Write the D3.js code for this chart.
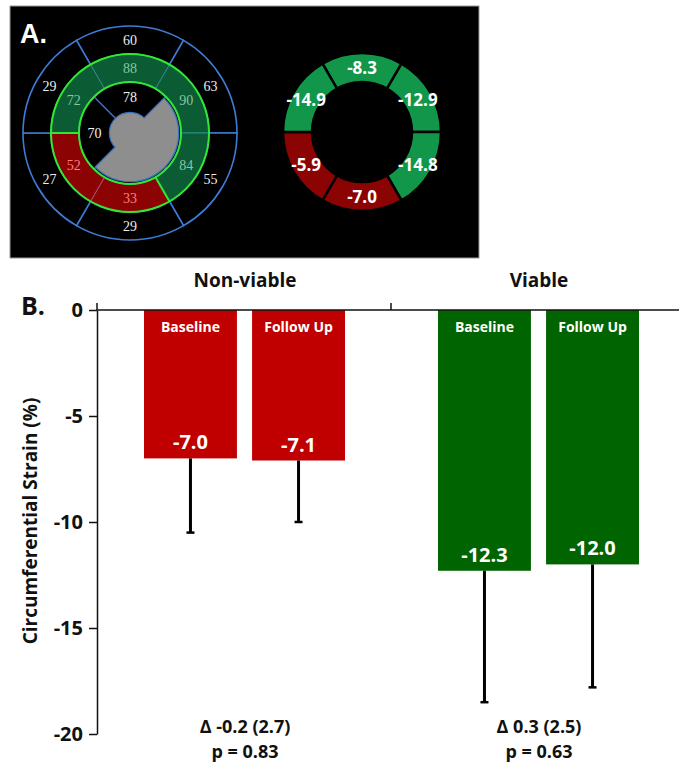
<!DOCTYPE html>
<html>
<head>
<meta charset="utf-8">
<script src="https://cdn.jsdelivr.net/npm/d3@7"></script>
<style>
body { margin: 0; background: #fff; }
svg { display: block; }
</style>
</head>
<body>
<div id="chart"></div>
<script>
// panel A: bullseye segments, clockwise from the top one
const basalPercent = [60, 63, 55, 29, 27, 29]
const midPercent = [88, 90, 84, 33, 52, 72]
const midViable = [true, true, true, false, false, true]
const apicalPercent = [78, null, null, 70]
const midStrain = ["-8.3", "-12.9", "-14.8", "-7.0", "-5.9", "-14.9"]

// panel B
const groups = ["Non-viable", "Viable"]
const timepoints = ["Baseline", "Follow Up"]
const strainMean = [[-7.0, -7.1], [-12.3, -12.0]]
const strainSD = [[3.5, 2.9], [6.2, 5.8]]
const deltaLabels = ["Δ -0.2 (2.7)", "Δ 0.3 (2.5)"]
const pLabels = ["p = 0.83", "p = 0.63"]
const yTicks = [0, -5, -10, -15, -20]

const deg = Math.PI / 180
const sans = "'Open Sans', 'Liberation Sans', sans-serif"
const serif = "'Liberation Serif', 'DejaVu Serif', serif"

const svg = d3
  .select("#chart")
  .append("svg")
  .attr("width", 679)
  .attr("height", 767)

// ---------- panel A ----------
svg
  .append("rect")
  .attr("x", 10)
  .attr("y", 6)
  .attr("width", 469)
  .attr("height", 252)
  .attr("fill", "#000")
  .attr("stroke", "#9a9a9a")
  .attr("stroke-width", 1)

const sixth = i => ({ startAngle: (i * 60 - 30) * deg, endAngle: (i * 60 + 30) * deg })
const quarter = i => ({ startAngle: (i * 90 - 45) * deg, endAngle: (i * 90 + 45) * deg })

const basalArc = d3.arc().innerRadius(79).outerRadius(107)
const midArc = d3.arc().innerRadius(51).outerRadius(79)
const apexArc = d3.arc().innerRadius(0).outerRadius(51)
const apexLabelArc = d3.arc().innerRadius(20).outerRadius(51)

const bull = svg.append("g").attr("transform", "translate(130,133)")

bull
  .selectAll(".basal")
  .data(basalPercent)
  .enter()
  .append("path")
  .attr("class", "basal")
  .attr("d", (d, i) => basalArc(sixth(i)))
  .attr("fill", "#000")
  .attr("stroke", "#3f7bd4")
  .attr("stroke-width", 1.6)

bull
  .selectAll(".mid")
  .data(midPercent)
  .enter()
  .append("path")
  .attr("class", "mid")
  .attr("d", (d, i) => midArc(sixth(i)))
  .attr("fill", (d, i) => (midViable[i] ? "#0b5c34" : "#8b0303"))
  .attr("stroke", (d, i) => (midViable[i] ? "#2d8c8c" : "#b0507a"))
  .attr("stroke-width", 1)

bull
  .selectAll(".apex")
  .data(apicalPercent)
  .enter()
  .append("path")
  .attr("class", "apex")
  .attr("d", (d, i) => apexArc(quarter(i)))
  .attr("fill", "#000")
  .attr("stroke", "#3f7bd4")
  .attr("stroke-width", 1.2)

// infarct (no value) region of the apex in grey
const noValue = apicalPercent.map((d, i) => i).filter(i => apicalPercent[i] === null)
const greyArc = {
  startAngle: (noValue[0] * 90 - 45) * deg,
  endAngle: (noValue[noValue.length - 1] * 90 + 45) * deg,
}
const greyShape = d3.arc().innerRadius(0).outerRadius(48)
bull
  .append("path")
  .attr("d", greyShape(greyArc))
  .attr("fill", "none")
  .attr("stroke", "#3a6fc0")
  .attr("stroke-width", 2.5)
bull
  .append("circle")
  .attr("r", 20)
  .attr("fill", "none")
  .attr("stroke", "#3a6fc0")
  .attr("stroke-width", 2.5)
bull.append("path").attr("d", greyShape(greyArc)).attr("fill", "#8e8e8e")
bull.append("circle").attr("r", 20).attr("fill", "#8e8e8e")

// bright green outline of the mid ring
bull
  .selectAll(".ring")
  .data([51, 79])
  .enter()
  .append("circle")
  .attr("r", d => d)
  .attr("fill", "none")
  .attr("stroke", "#33e633")
  .attr("stroke-width", 2)
bull
  .selectAll(".edge")
  .data(midViable.map((v, i) => i).filter(i => midViable[i] !== midViable[(i + 1) % 6]))
  .enter()
  .append("line")
  .attr("x1", i => 51 * Math.sin((i * 60 + 30) * deg))
  .attr("y1", i => -51 * Math.cos((i * 60 + 30) * deg))
  .attr("x2", i => 79 * Math.sin((i * 60 + 30) * deg))
  .attr("y2", i => -79 * Math.cos((i * 60 + 30) * deg))
  .attr("stroke", "#33e633")
  .attr("stroke-width", 2)

const ringText = (sel, fill) =>
  sel
    .attr("text-anchor", "middle")
    .attr("dominant-baseline", "central")
    .attr("font-family", serif)
    .attr("font-size", 14)
    .attr("fill", fill)

bull
  .selectAll(".basalLabel")
  .data(basalPercent)
  .enter()
  .append("text")
  .attr("transform", (d, i) => `translate(${basalArc.centroid(sixth(i))})`)
  .text(d => d)
  .call(ringText, "#ececec")

bull
  .selectAll(".midLabel")
  .data(midPercent)
  .enter()
  .append("text")
  .attr("transform", (d, i) => `translate(${midArc.centroid(sixth(i))})`)
  .text(d => d)
  .call(ringText, (d, i) => (midViable[i] ? "#86c6a0" : "#ff8080"))

bull
  .selectAll(".apexLabel")
  .data(apicalPercent)
  .enter()
  .filter(d => d !== null)
  .append("text")
  .attr("transform", (d, i) => `translate(${apexLabelArc.centroid(quarter(apicalPercent.indexOf(d)))})`)
  .text(d => d)
  .call(ringText, "#f2f2f2")

// strain donut
const donutArc = d3.arc().innerRadius(50).outerRadius(79)
const donut = svg.append("g").attr("transform", "translate(362,132)")
donut
  .selectAll("path")
  .data(midStrain)
  .enter()
  .append("path")
  .attr("d", (d, i) => donutArc(sixth(i)))
  .attr("fill", (d, i) => (midViable[i] ? "#12964a" : "#8b0303"))
  .attr("stroke", "#000")
  .attr("stroke-width", 2.5)
donut
  .selectAll("text")
  .data(midStrain)
  .enter()
  .append("text")
  .attr("transform", (d, i) => `translate(${donutArc.centroid(sixth(i))})`)
  .attr("text-anchor", "middle")
  .attr("dominant-baseline", "central")
  .attr("font-family", sans)
  .attr("font-weight", "bold")
  .attr("font-size", 17)
  .attr("fill", "#fff")
  .text(d => d)

svg
  .append("text")
  .attr("x", 20)
  .attr("y", 43)
  .attr("font-family", "'Liberation Sans', Arial, sans-serif")
  .attr("font-weight", "bold")
  .attr("font-size", 27)
  .attr("fill", "#fff")
  .text("A.")

// ---------- panel B ----------
const y = d3.scaleLinear().domain([-20, 0]).range([734, 310])
const xGroup = d3.scaleBand().domain(groups).range([97, 685])
const xTime = d3.scaleBand().domain(timepoints).range([47, 248]).paddingInner(0.14)

const bars = svg.append("g")
groups.forEach((g, gi) => {
  const grp = bars.append("g").attr("transform", `translate(${xGroup(g)},0)`)
  const color = gi === 0 ? "#c00000" : "#006400"
  const rows = timepoints.map((t, ti) => ({ t, mean: strainMean[gi][ti], sd: strainSD[gi][ti] }))

  grp
    .selectAll("rect")
    .data(rows)
    .enter()
    .append("rect")
    .attr("x", d => xTime(d.t))
    .attr("y", y(0))
    .attr("width", xTime.bandwidth())
    .attr("height", d => y(d.mean) - y(0))
    .attr("fill", color)

  grp
    .selectAll(".err")
    .data(rows)
    .enter()
    .append("line")
    .attr("x1", d => xTime(d.t) + xTime.bandwidth() / 2)
    .attr("x2", d => xTime(d.t) + xTime.bandwidth() / 2)
    .attr("y1", d => y(d.mean))
    .attr("y2", d => y(d.mean - d.sd))
    .attr("stroke", "#000")
    .attr("stroke-width", 3)
  grp
    .selectAll(".cap")
    .data(rows)
    .enter()
    .append("line")
    .attr("x1", d => xTime(d.t) + xTime.bandwidth() / 2 - 4)
    .attr("x2", d => xTime(d.t) + xTime.bandwidth() / 2 + 4)
    .attr("y1", d => y(d.mean - d.sd))
    .attr("y2", d => y(d.mean - d.sd))
    .attr("stroke", "#000")
    .attr("stroke-width", 2.5)

  grp
    .selectAll(".name")
    .data(rows)
    .enter()
    .append("text")
    .attr("x", d => xTime(d.t) + xTime.bandwidth() / 2)
    .attr("y", 332)
    .attr("text-anchor", "middle")
    .attr("font-family", sans)
    .attr("font-weight", "bold")
    .attr("font-size", 14)
    .attr("fill", "#fff")
    .text(d => d.t)

  grp
    .selectAll(".value")
    .data(rows)
    .enter()
    .append("text")
    .attr("x", d => xTime(d.t) + xTime.bandwidth() / 2)
    .attr("y", d => y(d.mean) - 9)
    .attr("text-anchor", "middle")
    .attr("font-family", sans)
    .attr("font-weight", "bold")
    .attr("font-size", 20)
    .attr("fill", "#fff")
    .text(d => d.mean.toFixed(1))

  const cx = xGroup(g) + xGroup.bandwidth() / 2
  const label = (yy, txt, size) =>
    svg
      .append("text")
      .attr("x", cx + 1)
      .attr("y", yy)
      .attr("text-anchor", "middle")
      .attr("font-family", sans)
      .attr("font-weight", "bold")
      .attr("font-size", size)
      .attr("fill", "#111")
      .text(txt)
  label(287, g, 19)
  label(733, deltaLabels[gi], 18)
  label(758, pLabels[gi], 18)
})

// y axis
const yAxis = svg
  .append("g")
  .attr("transform", "translate(97,0)")
  .call(
    d3
      .axisLeft(y)
      .tickValues(yTicks)
      .tickSize(8)
      .tickSizeOuter(0)
      .tickPadding(6)
      .tickFormat(d => String(d))
  )
yAxis.select(".domain").attr("stroke", "#111").attr("stroke-width", 1.5)
yAxis.selectAll(".tick line").attr("stroke", "#111").attr("stroke-width", 1.5)
yAxis
  .selectAll(".tick text")
  .attr("font-family", sans)
  .attr("font-weight", "bold")
  .attr("font-size", 20)
  .attr("fill", "#111")

// x axis along zero, with group ticks pointing up
const [x0, x1] = xGroup.range()
svg
  .append("line")
  .attr("x1", x0)
  .attr("x2", x1)
  .attr("y1", y(0))
  .attr("y2", y(0))
  .attr("stroke", "#111")
  .attr("stroke-width", 1.5)
svg
  .selectAll(".xtick")
  .data(groups)
  .enter()
  .append("line")
  .attr("x1", g => xGroup(g))
  .attr("x2", g => xGroup(g))
  .attr("y1", y(0))
  .attr("y2", y(0) - 7)
  .attr("stroke", "#111")
  .attr("stroke-width", 1.5)

svg
  .append("text")
  .attr("transform", "translate(30,521) rotate(-90)")
  .attr("text-anchor", "middle")
  .attr("dominant-baseline", "central")
  .attr("font-family", sans)
  .attr("font-weight", "bold")
  .attr("font-size", 19)
  .attr("fill", "#111")
  .text("Circumferential Strain (%)")

svg
  .append("text")
  .attr("x", 21)
  .attr("y", 315)
  .attr("font-family", sans)
  .attr("font-weight", "bold")
  .attr("font-size", 25)
  .attr("fill", "#111")
  .text("B.")
</script>
</body>
</html>
